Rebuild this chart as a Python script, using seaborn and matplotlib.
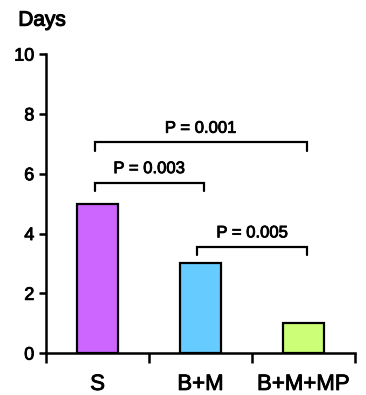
import matplotlib
matplotlib.use('Agg')
import matplotlib.pyplot as plt
import matplotlib.patheffects as pe
import seaborn as sns

groups = ['S', 'B+M', 'B+M+MP']
days = [5, 3, 1]
colors = ['#CC66FF', '#66CCFF', '#CCFF77']

# comparisons: (left group, right group, bracket height, label)
pairs = [(0, 1), (0, 2), (1, 2)]
bracket_y = [5.7, 7.05, 3.55]
p_labels = ['P = 0.003', 'P = 0.001', 'P = 0.005']

sns.set_style('ticks')
plt.rcParams['font.family'] = ['Liberation Sans', 'DejaVu Sans']
plt.rcParams['text.color'] = 'black'
plt.rcParams['xtick.color'] = 'black'
plt.rcParams['ytick.color'] = 'black'
plt.rcParams['axes.edgecolor'] = 'black'

# a bit heavier text, like a medium weight
heavy = [pe.withStroke(linewidth=0.6, foreground='black')]

fig = plt.figure(figsize=(3.66, 3.95), dpi=100)
ax = fig.add_axes([0.126, 0.106, 0.844, 0.757])

sns.barplot(x=groups, y=days, hue=groups, palette=colors, legend=False,
            saturation=1, width=0.4, edgecolor='black', linewidth=1.6, ax=ax)

for (a, b), h, lab in zip(pairs, bracket_y, p_labels):
    a = a - 0.03
    b = b + 0.03
    ax.plot([a, a, b, b], [h - 0.28, h, h, h - 0.28], color='black', lw=1.6,
            solid_joinstyle='miter', clip_on=False)
    ax.text((a + b) / 2, h + 0.22, lab, ha='center', va='bottom', fontsize=12,
            path_effects=heavy)

ax.set_xlim(-0.5, 2.5)
ax.set_ylim(0, 10)
ax.set_yticks([0, 2, 4, 6, 8, 10])
ax.tick_params(axis='y', labelsize=13, width=1.8, length=5, direction='out')
ax.set_xticks([-0.5, 0.5, 1.5, 2.5])
ax.set_xticklabels([])
ax.set_xticks([0, 1, 2], minor=True)
ax.set_xticklabels(groups, minor=True, fontsize=16)
ax.tick_params(axis='x', which='major', width=1.8, length=7, direction='out')
ax.tick_params(axis='x', which='minor', length=0, pad=15)
for lbl in ax.get_xticklabels(minor=True) + ax.get_yticklabels():
    lbl.set_path_effects(heavy)
for s in ['left', 'bottom']:
    ax.spines[s].set_linewidth(1.8)
sns.despine(ax=ax)
ax.set_xlabel('')
ax.set_ylabel('')

fig.text(0.05, 0.935, 'Days', fontsize=15,
         path_effects=[pe.withStroke(linewidth=0.8, foreground='black')])

fig.savefig('out.png', dpi=100)
